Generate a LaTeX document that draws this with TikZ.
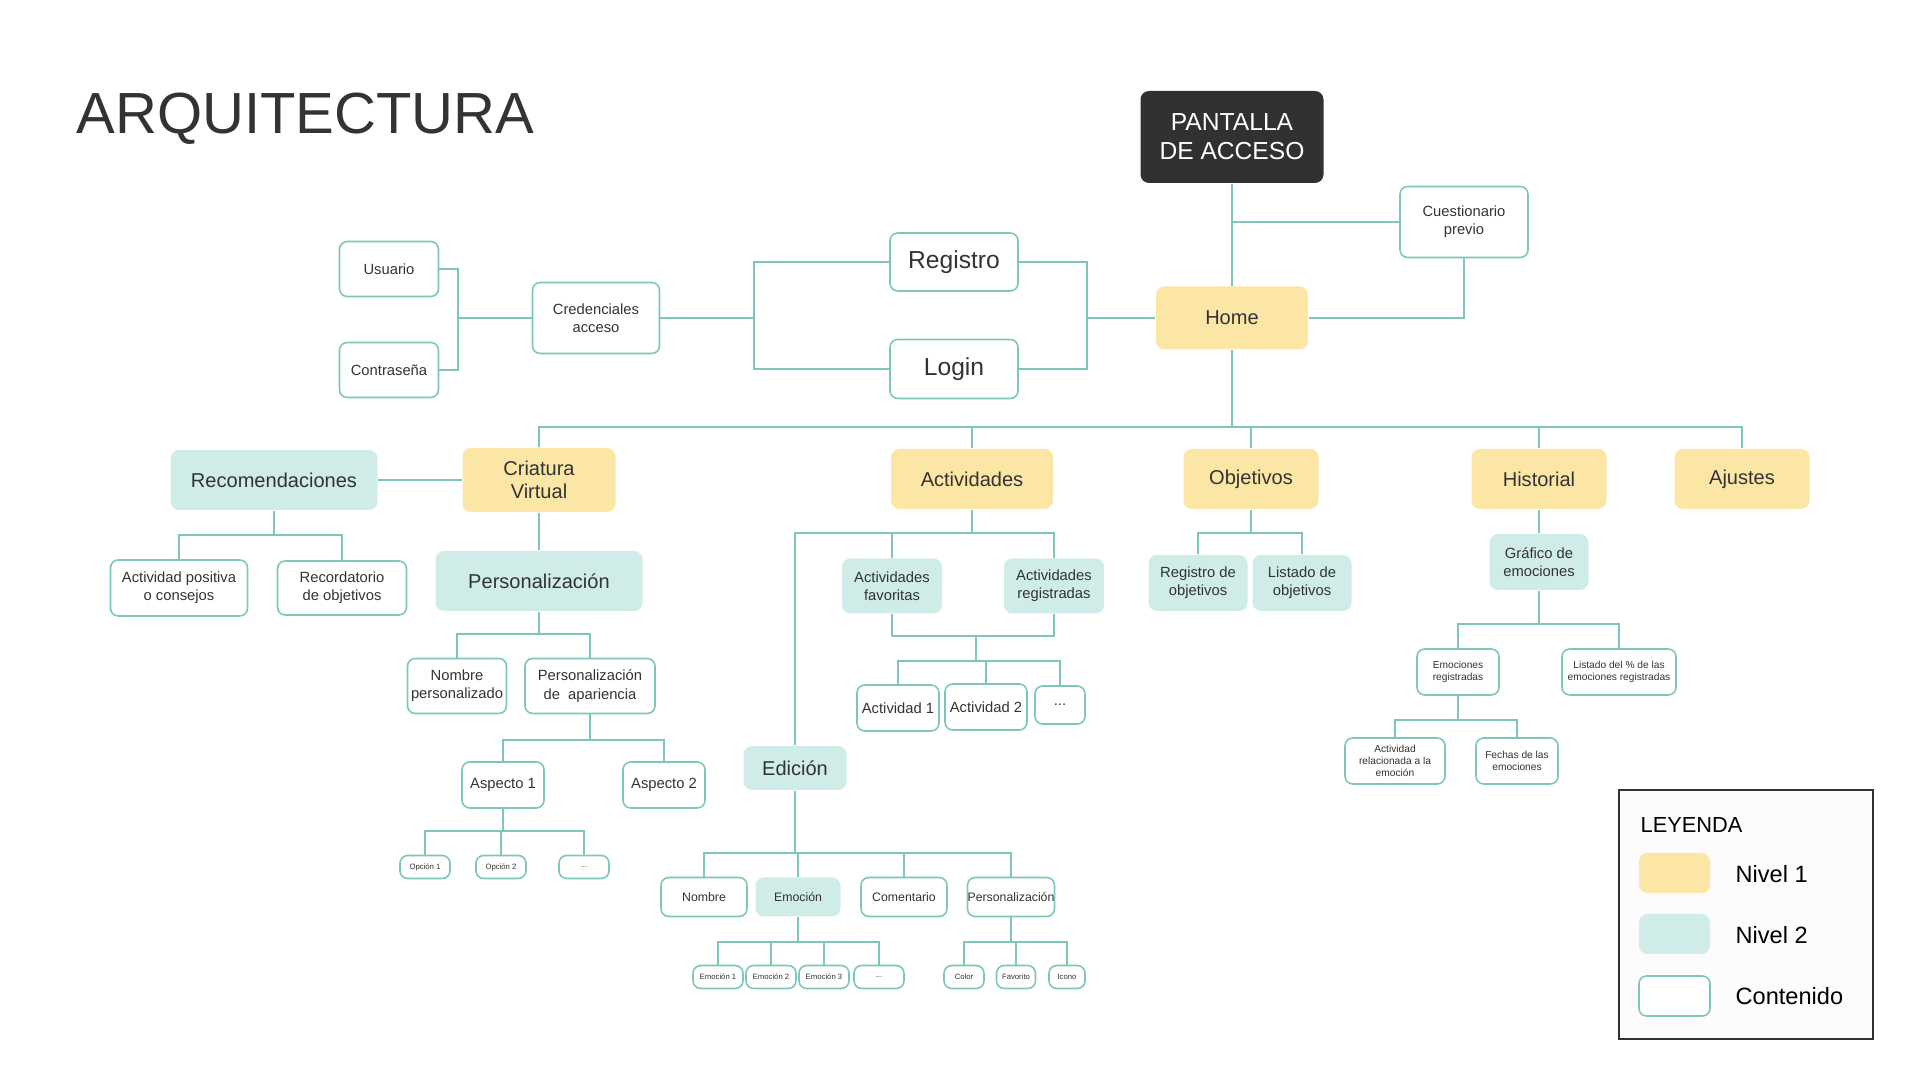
\documentclass[tikz,border=0pt]{standalone}
\usepackage{fontspec}
\setmainfont{Liberation Sans}
\usepackage{tikz}

\definecolor{cYel}{HTML}{FBE6A5}
\definecolor{cTeal}{HTML}{CFECE8}
\definecolor{cLine}{HTML}{7CC6BC}
\definecolor{cDark}{HTML}{313131}
\definecolor{cTxt}{HTML}{333333}
\definecolor{cLeg}{HTML}{FDFBFC}

\begin{document}
\begin{tikzpicture}[x=0.01cm, y=-0.01cm,
	every node/.style={inner sep=0pt, align=center, text=cTxt},
	sz/.style 2 args={minimum width=#1*0.01cm, minimum height=#2*0.01cm},
	nivel1/.style={rectangle, fill=cYel, rounded corners=2.4pt},
	nivel2/.style={rectangle, fill=cTeal, rounded corners=2.4pt},
	contenido/.style={rectangle, draw=cLine, line width=0.45pt, fill=white, rounded corners=2.2pt},
	link/.style={draw=cLine, line width=0.55pt},
	tTitle/.style={font=\fontsize{16.5}{19}\selectfont},
	tA/.style={font=\fontsize{7}{8.3}\selectfont},
	tB/.style={font=\fontsize{5.7}{6.5}\selectfont},
	tC/.style={font=\fontsize{4.2}{5.2}\selectfont},
	tD/.style={font=\fontsize{3.5}{4.3}\selectfont},
	tE/.style={font=\fontsize{2.9}{3.5}\selectfont},
	tF/.style={font=\fontsize{2.2}{2.7}\selectfont}]
	\useasboundingbox (0,0) rectangle (1920,1080);

	% titulo
	\node[tTitle, anchor=base west] (titulo) at (76,134) {ARQUITECTURA};

	% acceso
	\node[tA, sz={183}{92}, fill=cDark, rounded corners=2.4pt, text=white] (pant) at (1232,137) {PANTALLA\\DE ACCESO};
	\node[tC, contenido, sz={128}{71}] (cuest) at (1464,222) {Cuestionario\\previo};
	\node[tB, nivel1, sz={152}{63}] (home) at (1232,318) {Home};
	\node[tA, contenido, sz={128}{58}] (registro) at (954,262) {Registro};
	\node[tA, contenido, sz={128}{59}] (login) at (954,369) {Login};
	\node[tC, contenido, sz={127}{71}] (cred) at (596,318) {Credenciales\\acceso};
	\node[tC, contenido, sz={99}{55}] (usuario) at (389,269) {Usuario};
	\node[tC, contenido, sz={99}{55}] (contra) at (389,370) {Contraseña};

	\draw[link] (pant.south) -- (home.north);
	\draw[link] (cuest.west) -- (cuest.west -| pant.south);
	\draw[link] (home.east) -| (cuest.south);
	\coordinate (jRH) at (1087,318);
	\draw[link] (registro.east) -| (jRH);
	\draw[link] (login.east) -| (jRH);
	\draw[link] (jRH) -- (home.west);
	\coordinate (jCR) at (754,318);
	\draw[link] (cred.east) -- (jCR);
	\draw[link] (registro.west) -| (jCR);
	\draw[link] (login.west) -| (jCR);
	\coordinate (jUC) at (458,318);
	\draw[link] (usuario.east) -| (jUC);
	\draw[link] (contra.east) -| (jUC);
	\draw[link] (jUC) -- (cred.west);

	% nivel 1
	\node[tB, nivel1, sz={153}{64}] (cv) at (539,480) {Criatura\\Virtual};
	\node[tB, nivel1, sz={162}{60}] (act) at (972,479) {Actividades};
	\node[tB, nivel1, sz={135}{60}] (obj) at (1251,479) {Objetivos};
	\node[tB, nivel1, sz={135}{60}] (hist) at (1539,479) {Historial};
	\node[tB, nivel1, sz={135}{60}] (aju) at (1742,479) {Ajustes};
	\coordinate (jHome) at (1232,427);
	\draw[link] (home.south) -- (jHome);
	\foreach \n in {cv,act,obj,hist,aju}
		\draw[link] (\n.north) |- (jHome);

	% criatura virtual
	\node[tB, nivel2, sz={207}{60}] (reco) at (274,480) {Recomendaciones};
	\node[tB, nivel2, sz={207}{60}] (pers) at (539,581) {Personalización};
	\draw[link] (reco.east) -- (cv.west);
	\draw[link] (cv.south) -- (pers.north);
	\node[tC, contenido, sz={137}{56}] (apos) at (179,588) {Actividad positiva\\o consejos};
	\node[tC, contenido, sz={129}{54}] (recobj) at (342,588) {Recordatorio\\de objetivos};
	\coordinate (jReco) at (274,535);
	\draw[link] (reco.south) -- (jReco);
	\foreach \n in {apos,recobj}
		\draw[link] (\n.north) |- (jReco);
	\node[tC, contenido, sz={99}{55}] (nomp) at (457,686) {Nombre\\personalizado};
	\node[tC, contenido, sz={130}{55}] (papa) at (590,686) {Personalización\\de~~apariencia};
	\coordinate (jPers) at (539,634);
	\draw[link] (pers.south) -- (jPers);
	\foreach \n in {nomp,papa}
		\draw[link] (\n.north) |- (jPers);
	\node[tC, contenido, sz={82}{46}] (asp1) at (503,785) {Aspecto 1};
	\node[tC, contenido, sz={82}{46}] (asp2) at (664,785) {Aspecto 2};
	\coordinate (jPapa) at (590,740);
	\draw[link] (papa.south) -- (jPapa);
	\foreach \n in {asp1,asp2}
		\draw[link] (\n.north) |- (jPapa);
	\node[tF, contenido, sz={50}{23}] (op1) at (425,867) {Opción 1};
	\node[tF, contenido, sz={50}{23}] (op2) at (501,867) {Opción 2};
	\node[tF, contenido, sz={50}{23}] (opd) at (584,867) {...};
	\coordinate (jAsp) at (503,831);
	\draw[link] (asp1.south) -- (jAsp);
	\foreach \n in {op1,op2,opd}
		\draw[link] (\n.north) |- (jAsp);

	% actividades
	\node[tC, nivel2, sz={100}{55}] (afav) at (892,586) {Actividades\\favoritas};
	\node[tC, nivel2, sz={100}{55}] (areg) at (1054,586) {Actividades\\registradas};
	\node[tB, nivel2, sz={103}{44}] (edic) at (795,768) {Edición};
	\coordinate (jAct) at (972,533);
	\draw[link] (act.south) -- (jAct);
	\foreach \n in {afav,areg,edic}
		\draw[link] (\n.north) |- (jAct);
	\node[tC, contenido, sz={82}{46}] (a1) at (898,708) {Actividad 1};
	\node[tC, contenido, sz={82}{46}] (a2) at (986,707) {Actividad 2};
	\node[tC, contenido, sz={50}{38}] (adot) at (1060,705) {...};
	\coordinate (jFR) at (976,636);
	\coordinate (jA12) at (976,661);
	\draw[link] (afav.south) |- (jFR);
	\draw[link] (areg.south) |- (jFR);
	\draw[link] (jFR) -- (jA12);
	\foreach \n in {a1,a2,adot}
		\draw[link] (\n.north) |- (jA12);

	% edicion
	\node[tD, contenido, sz={86}{39}] (nomb) at (704,897) {Nombre};
	\node[tD, nivel2, sz={85}{39}] (emoc) at (798,897) {Emoción};
	\node[tD, contenido, sz={86}{39}] (come) at (904,897) {Comentario};
	\node[tD, contenido, sz={87}{39}] (pere) at (1011,897) {Personalización};
	\coordinate (jEd) at (795,853);
	\draw[link] (edic.south) -- (jEd);
	\foreach \n in {nomb,emoc,come,pere}
		\draw[link] (\n.north) |- (jEd);
	\node[tF, contenido, sz={50}{23}] (e1) at (718,977) {Emoción 1};
	\node[tF, contenido, sz={50}{23}] (e2) at (771,977) {Emoción 2};
	\node[tF, contenido, sz={50}{23}] (e3) at (824,977) {Emoción 3};
	\node[tF, contenido, sz={50}{23}] (edot) at (879,977) {...};
	\coordinate (jEmo) at (798,942);
	\draw[link] (emoc.south) -- (jEmo);
	\foreach \n in {e1,e2,e3,edot}
		\draw[link] (\n.north) |- (jEmo);
	\node[tF, contenido, sz={40}{23}] (col) at (964,977) {Color};
	\node[tF, contenido, sz={39}{23}] (fav) at (1016,977) {Favorito};
	\node[tF, contenido, sz={36}{23}] (ico) at (1067,977) {Icono};
	\coordinate (jPe) at (1011,942);
	\draw[link] (pere.south) -- (jPe);
	\foreach \n in {col,fav,ico}
		\draw[link] (\n.north) |- (jPe);

	% objetivos
	\node[tC, nivel2, sz={99}{56}] (robj) at (1198,583) {Registro de\\objetivos};
	\node[tC, nivel2, sz={99}{56}] (lobj) at (1302,583) {Listado de\\objetivos};
	\coordinate (jObj) at (1251,533);
	\draw[link] (obj.south) -- (jObj);
	\foreach \n in {robj,lobj}
		\draw[link] (\n.north) |- (jObj);

	% historial
	\node[tC, nivel2, sz={99}{56}] (graf) at (1539,562) {Gráfico de\\emociones};
	\draw[link] (hist.south) -- (graf.north);
	\node[tE, contenido, sz={82}{46}] (emreg) at (1458,672) {Emociones\\registradas};
	\node[tE, contenido, sz={114}{46}] (lpct) at (1619,672) {Listado del \% de las\\emociones registradas};
	\coordinate (jGraf) at (1539,624);
	\draw[link] (graf.south) -- (jGraf);
	\foreach \n in {emreg,lpct}
		\draw[link] (\n.north) |- (jGraf);
	\node[tE, contenido, sz={100}{46}] (arel) at (1395,761) {Actividad\\relacionada a la\\emoción};
	\node[tE, contenido, sz={82}{46}] (fech) at (1517,761) {Fechas de las\\emociones};
	\coordinate (jEm) at (1458,720);
	\draw[link] (emreg.south) -- (jEm);
	\foreach \n in {arel,fech}
		\draw[link] (\n.north) |- (jEm);

	% leyenda
	\node[sz={254}{249}, draw=cDark, fill=cLeg, line width=0.5pt] (ley) at (1746,914.5) {};
	\node[font=\fontsize{6.2}{7}\selectfont, text=black, anchor=base west] (leyt) at (1640,833) {LEYENDA};
	\node[nivel1, sz={71}{40}] (s1) at (1674.5,873) {};
	\node[nivel2, sz={71}{40}] (s2) at (1674.5,934) {};
	\node[contenido, sz={71}{40}] (s3) at (1674.5,996) {};
	\node[font=\fontsize{6.7}{8}\selectfont, text=black, anchor=west] (l1) at (1735,874) {Nivel 1};
	\node[font=\fontsize{6.7}{8}\selectfont, text=black, anchor=west] (l2) at (1735,935) {Nivel 2};
	\node[font=\fontsize{6.7}{8}\selectfont, text=black, anchor=west] (l3) at (1735,996) {Contenido};
\end{tikzpicture}
\end{document}
